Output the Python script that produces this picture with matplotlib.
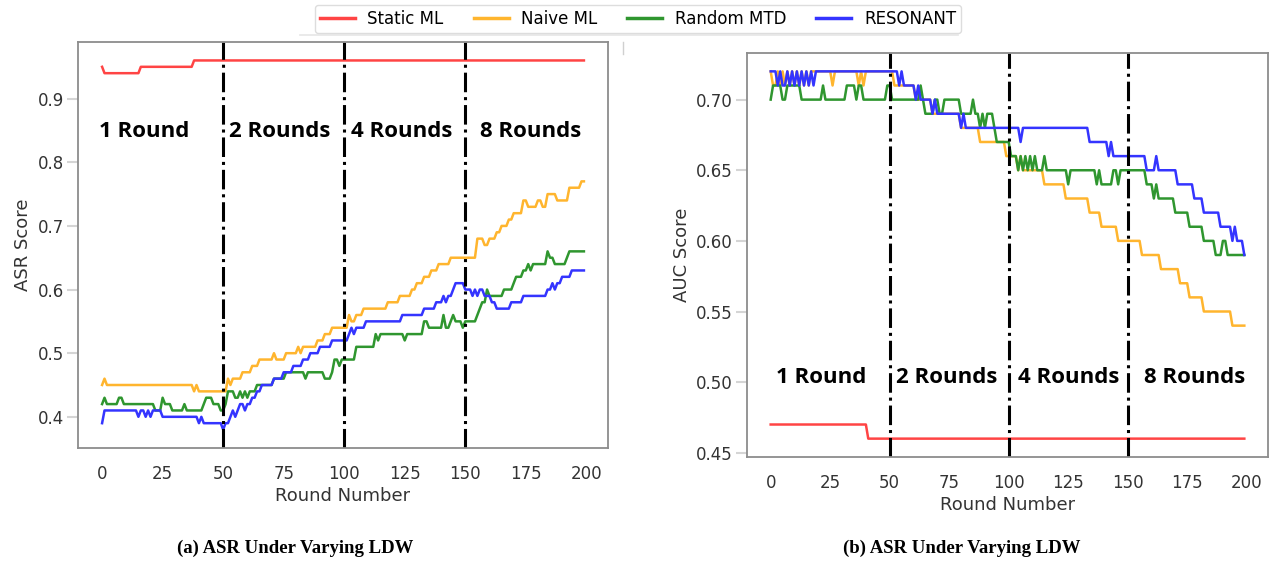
import numpy as np
import matplotlib
matplotlib.use("Agg")
import matplotlib.pyplot as plt
from matplotlib.lines import Line2D

plt.rcParams['font.family'] = ['DejaVu Sans']

rounds = np.arange(200)

# (a) ASR -- values stored as (value, run length) steps
asr_static_vals = [0.95, 0.94, 0.95, 0.96]
asr_static_runs = [1, 15, 22, 162]

asr_naive_vals = [0.45, 0.46, 0.45, 0.44, 0.45, 0.44, 0.46, 0.45, 0.46, 0.47, 0.48,
                  0.49, 0.50, 0.49, 0.50, 0.51, 0.50, 0.51, 0.52, 0.53, 0.54,
                  0.56, 0.55, 0.56, 0.57, 0.58, 0.59, 0.60, 0.61, 0.62, 0.63, 0.64,
                  0.65, 0.68, 0.67, 0.68, 0.69, 0.70, 0.71, 0.72, 0.74, 0.73, 0.74,
                  0.73, 0.75, 0.74, 0.76, 0.77]
asr_naive_runs = [1, 1, 36, 1, 1, 12, 1, 1, 4, 4, 3,
                  6, 1, 4, 5, 1, 1, 6, 3, 3, 7,
                  1, 2, 3, 10, 5, 5, 2, 3, 3, 3, 5,
                  11, 3, 2, 3, 2, 3, 2, 4, 2, 4, 2,
                  2, 4, 5, 5, 2]

asr_random_vals = [0.42, 0.43, 0.42, 0.43, 0.42, 0.41, 0.43, 0.42, 0.41, 0.42, 0.41,
                   0.42, 0.43, 0.42, 0.41, 0.42, 0.44, 0.43, 0.44, 0.43, 0.44, 0.43,
                   0.44, 0.45, 0.46, 0.47, 0.46, 0.47, 0.46, 0.47, 0.49, 0.48, 0.49,
                   0.51, 0.53, 0.52, 0.53, 0.52, 0.53, 0.55, 0.54, 0.56, 0.54, 0.55,
                   0.56, 0.55, 0.54, 0.55, 0.56, 0.57, 0.58, 0.60, 0.59, 0.60, 0.61,
                   0.62, 0.63, 0.64, 0.63, 0.64, 0.66, 0.65, 0.64, 0.65, 0.66]
asr_random_runs = [1, 1, 5, 2, 13, 3, 1, 3, 5, 1, 7,
                   1, 3, 3, 2, 1, 3, 2, 1, 1, 1, 1,
                   3, 7, 5, 8, 1, 7, 3, 1, 2, 1, 6,
                   8, 1, 1, 10, 1, 7, 2, 6, 1, 2, 1,
                   1, 3, 1, 5, 1, 1, 2, 1, 6, 4, 1,
                   3, 2, 1, 1, 6, 1, 2, 5, 1, 7]

asr_resonant_vals = [0.39, 0.41, 0.40, 0.41, 0.40, 0.41, 0.40, 0.41, 0.40, 0.39, 0.40,
                     0.39, 0.38, 0.39, 0.40, 0.41, 0.40, 0.41, 0.42, 0.41, 0.42, 0.43,
                     0.44, 0.45, 0.46, 0.47, 0.48, 0.49, 0.50, 0.51, 0.52, 0.53, 0.54,
                     0.53, 0.54, 0.55, 0.56, 0.57, 0.58, 0.59, 0.58, 0.59, 0.60, 0.61,
                     0.60, 0.59, 0.60, 0.59, 0.60, 0.59, 0.58, 0.57, 0.58, 0.59, 0.60,
                     0.61, 0.60, 0.61, 0.62, 0.63]
asr_resonant_runs = [1, 14, 1, 2, 1, 1, 1, 4, 15, 1, 1,
                     8, 1, 2, 1, 1, 1, 1, 2, 1, 2, 2,
                     2, 5, 4, 4, 4, 3, 4, 5, 7, 1, 1,
                     1, 4, 15, 9, 5, 3, 1, 1, 2, 1, 4,
                     3, 1, 1, 1, 2, 3, 2, 6, 5, 10, 2,
                     1, 1, 2, 4, 6]

# (b) AUC
auc_static_vals = [0.47, 0.46]
auc_static_runs = [41, 159]

auc_naive_vals = [0.72, 0.71, 0.72, 0.71, 0.72, 0.71, 0.72, 0.71, 0.72, 0.71, 0.72,
                  0.71, 0.72, 0.71, 0.72, 0.71, 0.72, 0.71, 0.72, 0.71, 0.72, 0.71,
                  0.72, 0.71, 0.70, 0.69, 0.68, 0.67, 0.66, 0.65, 0.66, 0.65, 0.64,
                  0.63, 0.62, 0.61, 0.60, 0.59, 0.58, 0.57, 0.56, 0.55, 0.54]
auc_naive_runs = [1, 2, 1, 1, 1, 1, 1, 1, 1, 1, 1,
                  1, 1, 1, 1, 1, 9, 1, 10, 1, 1, 1,
                  12, 9, 7, 12, 8, 11, 5, 1, 1, 9, 9,
                  10, 5, 7, 10, 8, 8, 4, 6, 12, 6]

auc_random_vals = [0.70, 0.71, 0.70, 0.71, 0.70, 0.71, 0.70, 0.71, 0.70, 0.71, 0.70,
                   0.71, 0.70, 0.71, 0.70, 0.69, 0.70, 0.69, 0.70,
                   0.69, 0.70, 0.69, 0.68, 0.69, 0.68, 0.69, 0.68,
                   0.67, 0.66, 0.65, 0.66, 0.65, 0.66, 0.65, 0.66, 0.65, 0.66, 0.65,
                   0.66, 0.65, 0.64, 0.65, 0.64, 0.65, 0.64,
                   0.65, 0.64, 0.65, 0.64, 0.63, 0.64, 0.63,
                   0.62, 0.61, 0.60, 0.59, 0.60, 0.59]
auc_random_runs = [1, 4, 2, 6, 9, 1, 9, 4, 1, 2, 10,
                   2, 12, 1, 1, 4, 2, 2, 7,
                   5, 1, 2, 1, 1, 1, 3, 1,
                   6, 3, 1, 1, 1, 1, 1, 1, 1, 1, 3,
                   1, 9, 1, 11, 1, 1, 5,
                   2, 1, 11, 3, 1, 1, 7,
                   6, 6, 5, 3, 2, 8]

auc_resonant_vals = [0.72, 0.71, 0.72, 0.71, 0.72, 0.71, 0.72, 0.71, 0.72, 0.71, 0.72,
                     0.71, 0.72, 0.71, 0.72, 0.71, 0.72,
                     0.71, 0.72, 0.71, 0.70, 0.71, 0.70, 0.69, 0.70, 0.69, 0.68,
                     0.69, 0.68, 0.67, 0.68, 0.67, 0.66, 0.67, 0.66, 0.65, 0.66,
                     0.65, 0.64, 0.63, 0.62, 0.61, 0.60, 0.61, 0.60, 0.59]
auc_resonant_runs = [3, 1, 1, 2, 1, 1, 1, 1, 1, 1, 1,
                     1, 1, 1, 1, 1, 35,
                     1, 1, 5, 1, 1, 5, 1, 1, 10, 1,
                     1, 23, 1, 28, 8, 1, 1, 14, 4, 1,
                     8, 7, 4, 7, 5, 1, 1, 3, 1]


def steps(vals, runs):
    y = np.repeat(vals, runs)
    assert len(y) == 200, (len(y), vals[:3])
    return y


labels = ['Static ML', 'Naive ML', 'Random MTD', 'RESONANT']
colors = ['#ff4444', '#ffb52e', '#2f962f', '#3434ff']
region_labels = ['1 Round', '2 Rounds', '4 Rounds', '8 Rounds']
boundaries = [50, 100, 150]

asr = [steps(asr_static_vals, asr_static_runs), steps(asr_naive_vals, asr_naive_runs),
       steps(asr_random_vals, asr_random_runs), steps(asr_resonant_vals, asr_resonant_runs)]
auc = [steps(auc_static_vals, auc_static_runs), steps(auc_naive_vals, auc_naive_runs),
       steps(auc_random_vals, auc_random_runs), steps(auc_resonant_vals, auc_resonant_runs)]

fig = plt.figure(figsize=(12.71, 5.63), dpi=100)
W, H = 1271, 563
ax1 = fig.add_axes([78 / W, 1 - 448 / H, 530 / W, 406 / H])
ax2 = fig.add_axes([747 / W, 1 - 457 / H, 521 / W, 404 / H])


def style(ax, ylabel):
    for s in ax.spines.values():
        s.set_color('#8c8c8c')
        s.set_linewidth(1.3)
    ax.set_xticks([0, 25, 50, 75, 100, 125, 150, 175, 200])
    ax.tick_params(axis='x', length=0, pad=12, labelsize=12, labelcolor='#333333')
    ax.tick_params(axis='y', length=8, width=1.5, color='#d5d5d5', pad=2,
                   labelsize=12, labelcolor='#333333')
    ax.set_xlabel('Round Number', fontsize=13, color='#333333', labelpad=3)
    ax.set_ylabel(ylabel, fontsize=13, color='#333333')


for y, c, lab in zip(asr, colors, labels):
    ax1.plot(rounds, y, color=c, lw=1.8, label=lab)
for y, c in zip(auc, colors):
    ax2.plot(rounds, y, color=c, lw=1.8)

for ax in (ax1, ax2):
    for b in boundaries:
        ax.axvline(b, color='black', lw=2.2, linestyle='-.')

style(ax1, 'ASR Score')
style(ax2, 'AUC Score')

for x, s in zip([17.3, 73.4, 123.9, 177.0], region_labels):
    ax1.text(x, 0.849, s, ha='center', va='center', fontsize=16,
             fontweight='bold', family='Open Sans')
for x, s in zip([21.4, 73.8, 125.2, 178.0], region_labels):
    ax2.text(x, 0.503, s, ha='center', va='center', fontsize=16,
             fontweight='bold', family='Open Sans')

# faint edge of a box sitting behind the legend in the original figure
fig.add_artist(Line2D([300 / W, 958 / W], [1 - 35 / H, 1 - 35 / H],
                      color='#e6e6e6', lw=1.2))
fig.add_artist(Line2D([623 / W, 623 / W], [1 - 42 / H, 1 - 54 / H],
                      color='#d0d0d0', lw=1.0))

handles = [Line2D([], [], color=c, lw=2.5) for c in colors]
fig.legend(handles, labels, loc='upper center', bbox_to_anchor=(638 / W, 1 - 5 / H),
           ncol=4, fontsize=12, handlelength=2.1, handletextpad=0.75,
           columnspacing=1.8, borderpad=0.3, borderaxespad=0,
           edgecolor='#dddddd', framealpha=1)

fig.text(295 / W, 1 - 548 / H, '(a) ASR Under Varying LDW', ha='center', va='center',
         family='Liberation Serif', fontweight='bold', fontsize=13.5)
fig.text(962 / W, 1 - 548 / H, '(b) ASR Under Varying LDW', ha='center', va='center',
         family='Liberation Serif', fontweight='bold', fontsize=13.5)

fig.savefig('out.png', dpi=100)
